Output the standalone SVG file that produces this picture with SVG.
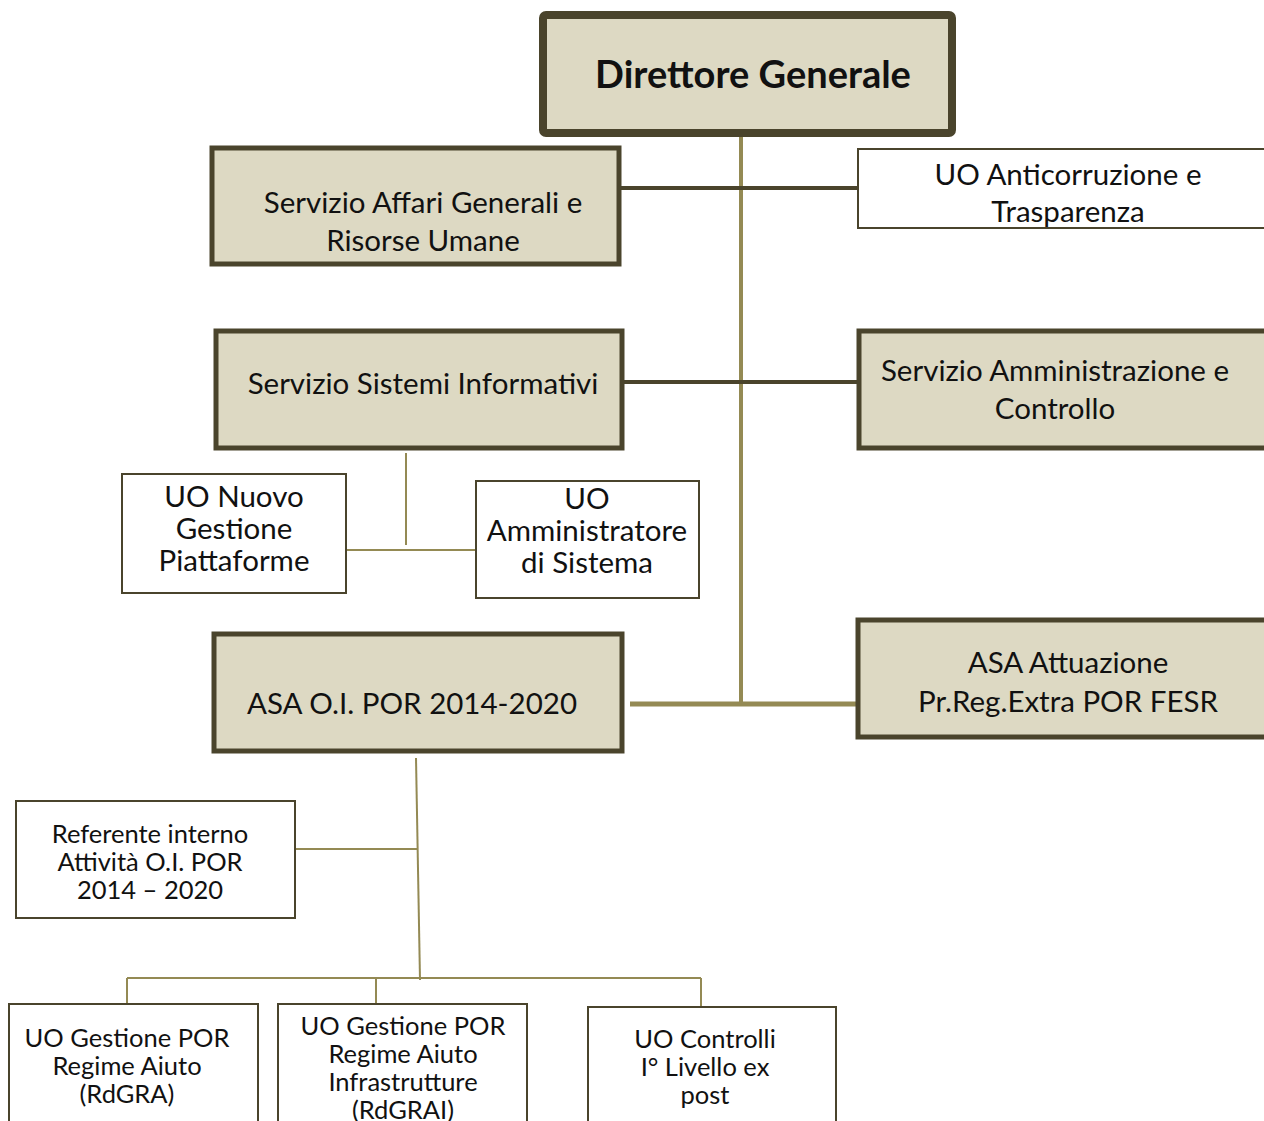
<svg xmlns="http://www.w3.org/2000/svg" width="1264" height="1121" viewBox="0 0 1264 1121">
<style>
.bg{fill:#ffffff}
.main{fill:#ddd9c3;stroke:#4a442c;stroke-width:5}
.top{fill:#ddd9c3;stroke:#4a442c;stroke-width:8}
.sub{fill:#ffffff;stroke:#4a442c;stroke-width:2}
.dk{stroke:#4a442c;stroke-width:4;fill:none}
.ln{stroke:#948a54;stroke-width:4;fill:none}
.th{stroke:#948a54;stroke-width:2;fill:none}
text{font-family:Lato,"Open Sans","Liberation Sans",sans-serif;fill:#111;text-anchor:middle}
.t27{font-size:29.5px}
.t24{font-size:25.5px}
.tb{font-size:38px;font-weight:bold}
</style>
<rect class="bg" width="1264" height="1121"/>
<g id="connectors">
<line class="ln" x1="741" y1="136" x2="741" y2="704"/>
<line class="dk" x1="621" y1="188" x2="858" y2="188"/>
<line class="dk" x1="624" y1="382" x2="858" y2="382"/>
<line class="ln" x1="630" y1="704" x2="866" y2="704" style="stroke-width:5"/>
<line class="th" x1="406" y1="453" x2="406" y2="545"/>
<line class="th" x1="346" y1="550" x2="477" y2="550"/>
<line class="th" x1="416" y1="758" x2="420" y2="980"/>
<line class="th" x1="290" y1="849" x2="418" y2="849"/>
<line class="th" x1="127" y1="978" x2="701" y2="978"/>
<line class="th" x1="127" y1="978" x2="127" y2="1005"/>
<line class="th" x1="376" y1="978" x2="376" y2="1005"/>
<line class="th" x1="701" y1="978" x2="701" y2="1007"/>
</g>
<g id="direttore">
<rect class="top" x="543" y="15" width="409" height="118" rx="3"/>
<text class="tb" x="753" y="88">Direttore Generale</text>
</g>
<g id="affari">
<rect class="main" x="212" y="148" width="407" height="116"/>
<text class="t27" x="423" y="213">Servizio Affari Generali e</text>
<text class="t27" x="423" y="251">Risorse Umane</text>
</g>
<g id="anticorruzione">
<rect class="sub" x="858" y="149" width="410" height="79"/>
<text class="t27" x="1068" y="185">UO Anticorruzione e</text>
<text class="t27" x="1068" y="222">Trasparenza</text>
</g>
<g id="sistemi">
<rect class="main" x="216" y="331" width="406" height="117"/>
<text class="t27" x="423" y="394">Servizio Sistemi Informativi</text>
</g>
<g id="amministrazione">
<rect class="main" x="859" y="331" width="410" height="117"/>
<text class="t27" x="1055" y="381">Servizio Amministrazione e</text>
<text class="t27" x="1055" y="419">Controllo</text>
</g>
<g id="nuovo">
<rect class="sub" x="122" y="474" width="224" height="119"/>
<text class="t27" x="234" y="507">UO Nuovo</text>
<text class="t27" x="234" y="539">Gestione</text>
<text class="t27" x="234" y="571">Piattaforme</text>
</g>
<g id="amministratore">
<rect class="sub" x="476" y="481" width="223" height="117"/>
<text class="t27" x="587" y="509">UO</text>
<text class="t27" x="587" y="541">Amministratore</text>
<text class="t27" x="587" y="573">di Sistema</text>
</g>
<g id="asa-oi">
<rect class="main" x="214" y="634" width="408" height="117"/>
<text class="t27" x="412" y="714">ASA O.I. POR 2014-2020</text>
</g>
<g id="asa-attuazione">
<rect class="main" x="858" y="620" width="410" height="117"/>
<text class="t27" x="1068" y="673">ASA Attuazione</text>
<text class="t27" x="1068" y="712">Pr.Reg.Extra  POR FESR</text>
</g>
<g id="referente">
<rect class="sub" x="16" y="801" width="279" height="117"/>
<text class="t24" x="150" y="843">Referente interno</text>
<text class="t24" x="150" y="871">Attività O.I. POR</text>
<text class="t24" x="150" y="899">2014 – 2020</text>
</g>
<g id="rdgra">
<rect class="sub" x="9" y="1004" width="249" height="130"/>
<text class="t24" x="127" y="1047">UO Gestione POR</text>
<text class="t24" x="127" y="1075">Regime Aiuto</text>
<text class="t24" x="127" y="1103">(RdGRA)</text>
</g>
<g id="rdgrai">
<rect class="sub" x="278" y="1004" width="249" height="130"/>
<text class="t24" x="403" y="1035">UO Gestione POR</text>
<text class="t24" x="403" y="1063">Regime Aiuto</text>
<text class="t24" x="403" y="1091">Infrastrutture</text>
<text class="t24" x="403" y="1119">(RdGRAI)</text>
</g>
<g id="controlli">
<rect class="sub" x="588" y="1007" width="248" height="130"/>
<text class="t24" x="705" y="1048">UO Controlli</text>
<text class="t24" x="705" y="1076">I° Livello ex</text>
<text class="t24" x="705" y="1104">post</text>
</g>
</svg>
